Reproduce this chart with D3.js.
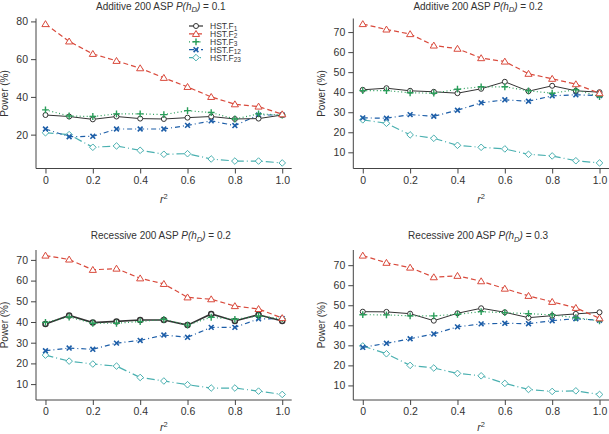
<!DOCTYPE html>
<html><head><meta charset="utf-8">
<script src="https://cdn.jsdelivr.net/npm/d3@7"></script>
<style>body{margin:0;background:#fff}svg{display:block}text{font-family:"Liberation Sans",Arial,sans-serif}</style>
</head><body><svg id="c" width="609" height="434"></svg>
<script>
const r2Values = [0,0.1,0.2,0.3,0.4,0.5,0.6,0.7,0.8,0.9,1.0];
const xTickValues = [0,0.2,0.4,0.6,0.8,1.0];
const xTickLabels = ["0","0.2","0.4","0.6","0.8","1.0"];
const seriesSubs = ["1","2","3","12","23"];
const panelModels = ["Additive","Additive","Recessive","Recessive"];
const panelPhd = ["0.1","0.2","0.2","0.3"];
const yTicksA01 = [20,40,60,80];
const yTicksOther = [10,20,30,40,50,60,70];

// Additive 200 ASP P(hD)=0.1
const a01_F1  = [30.4,29.6,28.1,29.6,28.5,28.3,29.0,29.6,28.3,28.5,30.4];
const a01_F2  = [78.6,69.4,62.8,59.1,55.2,50.1,45.3,40.0,36.1,34.9,30.8];
const a01_F3  = [33.1,29.9,29.6,31.0,31.0,30.6,32.7,31.7,28.3,31.0,30.4];
const a01_F12 = [23.0,18.9,19.1,23.0,23.0,23.0,24.9,27.3,24.8,30.4,30.4];
const a01_F23 = [21.0,20.0,13.3,14.0,11.7,9.6,9.9,7.1,6.0,6.0,5.0];
// Additive 200 ASP P(hD)=0.2
const a02_F1  = [41.2,42.0,40.7,40.2,39.5,41.7,45.2,40.5,43.2,40.7,40.0];
const a02_F2  = [74.0,71.3,69.0,63.3,61.7,57.0,55.3,49.2,46.7,44.0,39.5];
const a02_F3  = [40.8,40.8,39.7,39.5,41.5,42.7,42.7,40.7,39.5,41.2,37.8];
const a02_F12 = [27.2,27.0,28.8,28.0,31.0,34.7,36.2,35.5,38.2,38.7,38.3];
const a02_F23 = [26.2,24.5,18.7,17.0,13.5,12.5,11.7,9.0,8.2,5.8,4.7];
// Recessive 200 ASP P(hD)=0.2
const r02_F1  = [39.0,43.2,39.7,40.3,41.0,41.0,38.5,43.9,40.5,43.5,40.5];
const r02_F2  = [72.1,70.2,65.2,65.8,61.1,58.4,51.9,51.0,47.7,46.3,41.9];
const r02_F3  = [39.8,42.4,39.4,39.4,40.2,41.3,38.5,42.3,41.3,42.9,41.6];
const r02_F12 = [26.1,27.4,26.8,29.8,31.1,33.7,32.6,37.4,37.4,41.5,41.6];
const r02_F23 = [24.0,21.1,19.7,18.7,13.2,11.5,9.7,8.1,8.1,6.6,5.0];
// Recessive 200 ASP P(hD)=0.3
const r03_F1  = [46.8,46.7,45.8,42.3,46.0,48.5,46.5,43.8,44.8,45.7,46.5];
const r03_F2  = [74.8,71.2,68.8,64.0,64.7,62.0,58.3,54.7,51.7,48.7,43.5];
const r03_F3  = [45.3,45.2,44.7,44.7,45.5,46.8,46.3,45.8,45.2,43.8,42.2];
const r03_F12 = [29.0,31.0,33.3,35.7,39.2,40.7,41.0,40.8,42.3,43.3,42.5];
const r03_F23 = [29.7,25.8,20.0,18.7,16.0,14.8,11.0,8.0,7.0,7.3,5.5];

const panelsData = [
  [a01_F1,a01_F2,a01_F3,a01_F12,a01_F23],
  [a02_F1,a02_F2,a02_F3,a02_F12,a02_F23],
  [r02_F1,r02_F2,r02_F3,r02_F12,r02_F23],
  [r03_F1,r03_F2,r03_F3,r03_F12,r03_F23]
];
const panelYTicks = [yTicksA01, yTicksOther, yTicksOther, yTicksOther];

// styles
const colors = ["#333333","#d94a3c","#2a9d5a","#1d5ea8","#4ab0b0"];
const dashes = [null,"5,3","1,2.5","5,3,1,3","8,3,1,3"];
const markers = ["circle","triangle","plus","times","diamond"];

const layout = [
  {x0:36, x1:291.7, y0:168.5, y1:18.5, tOff:9, xlOff:34.5},
  {x0:353.3, x1:609, y0:168.5, y1:18.5, tOff:9, xlOff:34.5},
  {x0:36, x1:291.7, y0:400, y1:250, tOff:11, xlOff:31},
  {x0:353.3, x1:609, y0:400, y1:250, tOff:11, xlOff:31}
];

const svg = d3.select("#c");
const textCol = "#333";
const FONT = '"Liberation Sans",Arial,sans-serif';

function markerPath(type, x, y){
  const p = d3.path();
  if(type==="circle"){ p.moveTo(x+2.5,y); p.arc(x,y,2.5,0,2*Math.PI); }
  else if(type==="triangle"){ const s=3.4; p.moveTo(x,y-s); p.lineTo(x+s*1.05,y+s*0.75); p.lineTo(x-s*1.05,y+s*0.75); p.closePath(); }
  else if(type==="plus"){ const s=3.4; p.moveTo(x-s,y); p.lineTo(x+s,y); p.moveTo(x,y-s); p.lineTo(x,y+s); }
  else if(type==="times"){ const s=2.4; p.moveTo(x-s,y-s); p.lineTo(x+s,y+s); p.moveTo(x+s,y-s); p.lineTo(x-s,y+s); }
  else if(type==="diamond"){ const s=3.3; p.moveTo(x,y-s); p.lineTo(x+s,y); p.lineTo(x,y+s); p.lineTo(x-s,y); p.closePath(); }
  return p.toString();
}
function markerSW(si, pi){ return si===3?1.6:(si===2?1.4:(si===0&&pi===2?1.5:1)); }
function markerFillOp(si){ return (markers[si]==="plus"||markers[si]==="times")?0:1; }

panelsData.forEach((series, pi) => {
  const L = layout[pi];
  const all = series.flat();
  const mn = d3.min(all), mx = d3.max(all), ext = (mx-mn)*0.04;
  const x = d3.scaleLinear().domain([-0.04,1.04]).range([L.x0, L.x1]);
  const y = d3.scaleLinear().domain([mn-ext, mx+ext]).range([L.y0, L.y1]);
  const g = svg.append("g");

  const xAxis = d3.axisBottom(x).tickValues(xTickValues).tickFormat((d,i)=>xTickLabels[i]).tickSize(5).tickPadding(3).tickSizeOuter(0);
  const yAxis = d3.axisLeft(y).tickValues(panelYTicks[pi]).tickSize(5).tickPadding(3).tickSizeOuter(0);
  const gx = g.append("g").attr("transform",`translate(0,${L.y0})`).call(xAxis);
  const gy = g.append("g").attr("transform",`translate(${L.x0},0)`).call(yAxis);
  [gx,gy].forEach(a=>{
    a.select(".domain").attr("stroke","#444").attr("stroke-width",1);
    a.selectAll(".tick line").attr("stroke","#444");
    a.selectAll(".tick text").attr("fill",textCol).style("font-size","10.5px").style("font-family",FONT);
  });
  gy.select(".domain").attr("d",`M0,${L.y0}V${L.y1}`);
  gx.select(".domain").attr("d",`M${L.x0},0H${L.x1}`);

  const cx = (L.x0+L.x1)/2;
  const t = g.append("text").attr("x",cx-3).attr("y",L.y1-L.tOff).attr("text-anchor","middle").attr("fill",textCol).style("font-size","10px");
  t.append("tspan").text(panelModels[pi]+" 200 ASP ");
  t.append("tspan").attr("font-style","italic").text("P(h");
  t.append("tspan").attr("font-style","italic").attr("dy",2.5).style("font-size","7.5px").text("D");
  t.append("tspan").attr("font-style","italic").attr("dy",-2.5).text(")");
  t.append("tspan").text(" = "+panelPhd[pi]);

  const xl = g.append("text").attr("x",cx).attr("y",L.y0+L.xlOff).attr("text-anchor","middle").attr("fill",textCol).style("font-size","10.5px");
  xl.append("tspan").attr("font-style","italic").text("r");
  xl.append("tspan").attr("dy",-4).style("font-size","7.5px").text("2");
  g.append("text").attr("transform",`translate(${L.x0-28},${(L.y0+L.y1)/2}) rotate(-90)`).attr("text-anchor","middle").attr("fill",textCol).style("font-size","10px").text("Power (%)");

  const order = [4,3,0,2,1];
  order.forEach(si => {
    const vals = series[si];
    const col = colors[si];
    const line = d3.line().x((d,i)=>x(r2Values[i])).y(d=>y(d));
    g.append("path").datum(vals).attr("d",line).attr("fill","none").attr("stroke",col)
      .attr("stroke-width", si===0 ? (pi===2?1.6:1) : 1.2).attr("stroke-dasharray",dashes[si]);
    g.append("g").selectAll("path").data(vals).join("path")
      .attr("d",(d,i)=>markerPath(markers[si], x(r2Values[i]), y(d)))
      .attr("fill","#fff").attr("fill-opacity", markerFillOp(si))
      .attr("stroke",col).attr("stroke-width", markerSW(si,pi));
  });

  if(pi===0){
    const lg = g.append("g");
    seriesSubs.forEach((sub,si)=>{
      const ly = 26 + si*7.9;
      lg.append("line").attr("x1",189).attr("x2",203).attr("y1",ly).attr("y2",ly).attr("stroke",colors[si])
        .attr("stroke-width",1.2).attr("stroke-dasharray",dashes[si]);
      lg.append("path").attr("d",markerPath(markers[si],196,ly)).attr("fill","#fff")
        .attr("fill-opacity", markerFillOp(si))
        .attr("stroke",colors[si]).attr("stroke-width", markerSW(si,0));
      const tx = lg.append("text").attr("x",210).attr("y",ly+3).attr("fill",textCol).style("font-size","8.5px");
      tx.append("tspan").text("HST.F");
      tx.append("tspan").attr("dy",1.5).style("font-size","6.5px").text(sub);
    });
  }
});
</script></body></html>
